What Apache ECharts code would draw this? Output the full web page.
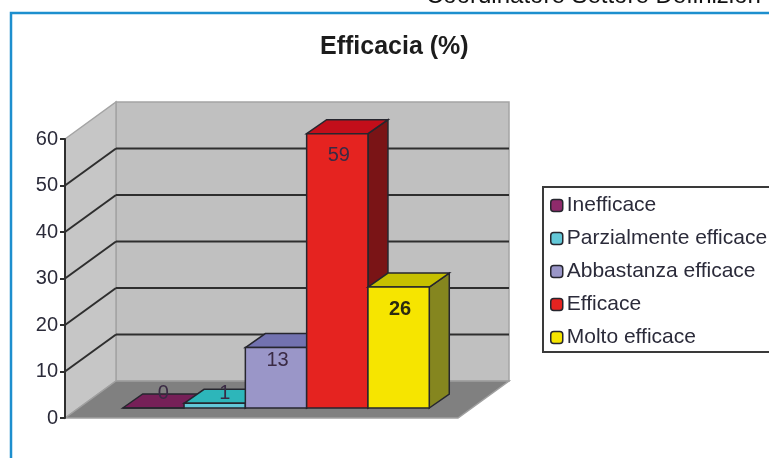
<!DOCTYPE html>
<html>
<head>
<meta charset="utf-8">
<title>Efficacia (%)</title>
<script src="https://cdn.jsdelivr.net/npm/echarts@6/dist/echarts.min.js"></script>
<style>
html, body { margin: 0; padding: 0; background: #fff; overflow: hidden; }
#chart { width: 769px; height: 458px; }
</style>
</head>
<body>
<div id="chart"></div>
<script>
// values
let names = ['Inefficace', 'Parzialmente efficace', 'Abbastanza efficace', 'Efficace', 'Molto efficace']
let values = [0, 1, 13, 59, 26]
let frontColors = ['#8e2a6b', '#63c8d8', '#9a96c8', '#e52320', '#f6e500']
let topColors = ['#762058', '#2db6ba', '#7272b0', '#c30e1a', '#c6c000']
let sideColors = ['#4f1540', '#1f8488', '#55558a', '#7a1416', '#85861f']
let wallLines = [10, 20, 30, 40, 50]

let textColor = '#2b2b3a'
let lineColor = '#2e2e2e'

// 3d offsets of the fake perspective, in pixels
let wallDx = 51, wallDy = -37
let barDx = 14.5, barDy = -10
let depthDx = 20, depthDy = -14
let barShare = 0.156

let chart = echarts.init(document.getElementById('chart'))

function poly(points, fill, stroke, width) {
    return {
        type: 'polygon',
        shape: { points: points },
        style: { fill: fill, stroke: stroke || null, lineWidth: width || 0 }
    }
}

function renderWalls(params, api) {
    let x0 = params.coordSys.x
    let x1 = x0 + params.coordSys.width
    let yBottom = api.coord([0, 0])[1]
    let yTop = api.coord([0, 60])[1]
    return {
        type: 'group',
        children: [
            // back wall
            poly([[x0 + wallDx, yTop + wallDy], [x1 + wallDx, yTop + wallDy], [x1 + wallDx, yBottom + wallDy], [x0 + wallDx, yBottom + wallDy]], '#c0c0c0', '#a4a4a4', 1.5),
            // side wall
            poly([[x0, yTop], [x0 + wallDx, yTop + wallDy], [x0 + wallDx, yBottom + wallDy], [x0, yBottom]], '#c6c6c6', '#a4a4a4', 1.5),
            // floor
            poly([[x0, yBottom], [x0 + wallDx, yBottom + wallDy], [x1 + wallDx, yBottom + wallDy], [x1, yBottom]], '#808080', '#a0a0a0', 1.5)
        ]
    }
}

function renderGridLine(params, api) {
    let x0 = params.coordSys.x
    let x1 = x0 + params.coordSys.width
    let y = api.coord([0, api.value(0)])[1]
    let lineStyle = { stroke: lineColor, lineWidth: 2, fill: null }
    return {
        type: 'group',
        children: [
            { type: 'line', shape: { x1: x0, y1: y, x2: x0 + wallDx, y2: y + wallDy }, style: lineStyle },
            { type: 'line', shape: { x1: x0 + wallDx, y1: y + wallDy, x2: x1 + wallDx, y2: y + wallDy }, style: lineStyle }
        ]
    }
}

function renderBar(index) {
    return function(params, api) {
        let v = api.value(1)
        let band = api.size([1, 0])[0]
        let w = band * barShare
        let center = api.coord([0, 0])[0]
        let left = center + (index - names.length / 2) * w + barDx
        let right = left + w
        let base = api.coord([0, 0])[1] + barDy
        let top = api.coord([0, v])[1] + barDy
        let edge = '#26262e'

        // low bars carry the label up on their top face, the rest on the front
        let labelX, labelY
        if (v < 5) {
            labelX = left + w / 2 + depthDx / 2
            labelY = base - 15
        } else {
            labelX = left + w / 2 + 1.5
            labelY = top + Math.min(22, v)
        }

        return {
            type: 'group',
            children: [
                poly([[right, base], [right + depthDx, base + depthDy], [right + depthDx, top + depthDy], [right, top]], sideColors[index], edge, 1.5),
                poly([[left, top], [left + depthDx, top + depthDy], [right + depthDx, top + depthDy], [right, top]], topColors[index], edge, 1.5),
                poly([[left, base], [right, base], [right, top], [left, top]], frontColors[index], edge, 1.5),
                {
                    type: 'text',
                    x: labelX,
                    y: labelY,
                    style: {
                        text: String(v),
                        fill: index === 4 ? '#2a2a10' : '#3a2a44',
                        font: (index === 4 ? 'bold ' : '') + '20px "Liberation Sans", Arial, sans-serif',
                        align: 'center',
                        verticalAlign: 'middle'
                    }
                }
            ]
        }
    }
}

let series = [
    {
        name: 'walls',
        type: 'custom',
        data: [[0]],
        silent: true,
        clip: false,
        z: 1,
        renderItem: renderWalls
    },
    {
        name: 'gridlines',
        type: 'custom',
        data: wallLines.map(function(t) { return [t] }),
        encode: { y: 0 },
        silent: true,
        clip: false,
        z: 2,
        renderItem: renderGridLine
    }
]

names.forEach(function(name, i) {
    series.push({
        name: name,
        type: 'custom',
        data: [[0, values[i]]],
        encode: { x: 0, y: 1 },
        clip: false,
        z: 3 + i,
        itemStyle: { color: frontColors[i] },
        renderItem: renderBar(i)
    })
})

let option = {
    animation: false,
    backgroundColor: '#fff',
    textStyle: { fontFamily: '"Liberation Sans", Arial, sans-serif' },
    title: {
        text: 'Efficacia (%)',
        left: 320,
        top: 35,
        textStyle: { fontSize: 25, fontWeight: 'bold', color: '#1c1c1c' },
        padding: 0
    },
    grid: { left: 65, top: 139, width: 393, height: 279 },
    xAxis: {
        type: 'category',
        data: [''],
        axisLine: { show: false },
        axisTick: { show: false },
        axisLabel: { show: false }
    },
    yAxis: {
        type: 'value',
        min: 0,
        max: 60,
        interval: 10,
        splitLine: { show: false },
        axisLine: { show: true, lineStyle: { color: lineColor, width: 2 } },
        axisTick: { show: true, length: 5, lineStyle: { color: lineColor, width: 2 } },
        axisLabel: { fontSize: 20, color: textColor, margin: 7 },
        z: 10
    },
    legend: {
        data: names,
        orient: 'vertical',
        left: 543,
        top: 187,
        width: 226,
        padding: [8, 30, 4, 7],
        itemGap: 12,
        itemWidth: 12,
        itemHeight: 12,
        selectedMode: false,
        backgroundColor: '#fff',
        borderColor: '#3a3a3a',
        borderWidth: 2,
        itemStyle: { borderColor: '#26262e', borderWidth: 1.5 },
        textStyle: { fontSize: 21, color: textColor, padding: [0, 0, 0, -1], width: 210, height: 21, lineHeight: 21 }
    },
    graphic: [
        {
            type: 'polyline',
            shape: { points: [[11, 458], [11, 13], [769, 13]] },
            style: { stroke: '#1d8fce', lineWidth: 2.5, fill: null },
            z: 0
        },
        {
            type: 'text',
            x: 426,
            y: 8,
            style: {
                text: 'Coordinatore Settore Definizion',
                fill: '#111',
                font: '24px "Liberation Sans", Arial, sans-serif',
                verticalAlign: 'bottom'
            }
        }
    ],
    series: series
}

chart.setOption(option)
</script>
</body>
</html>
